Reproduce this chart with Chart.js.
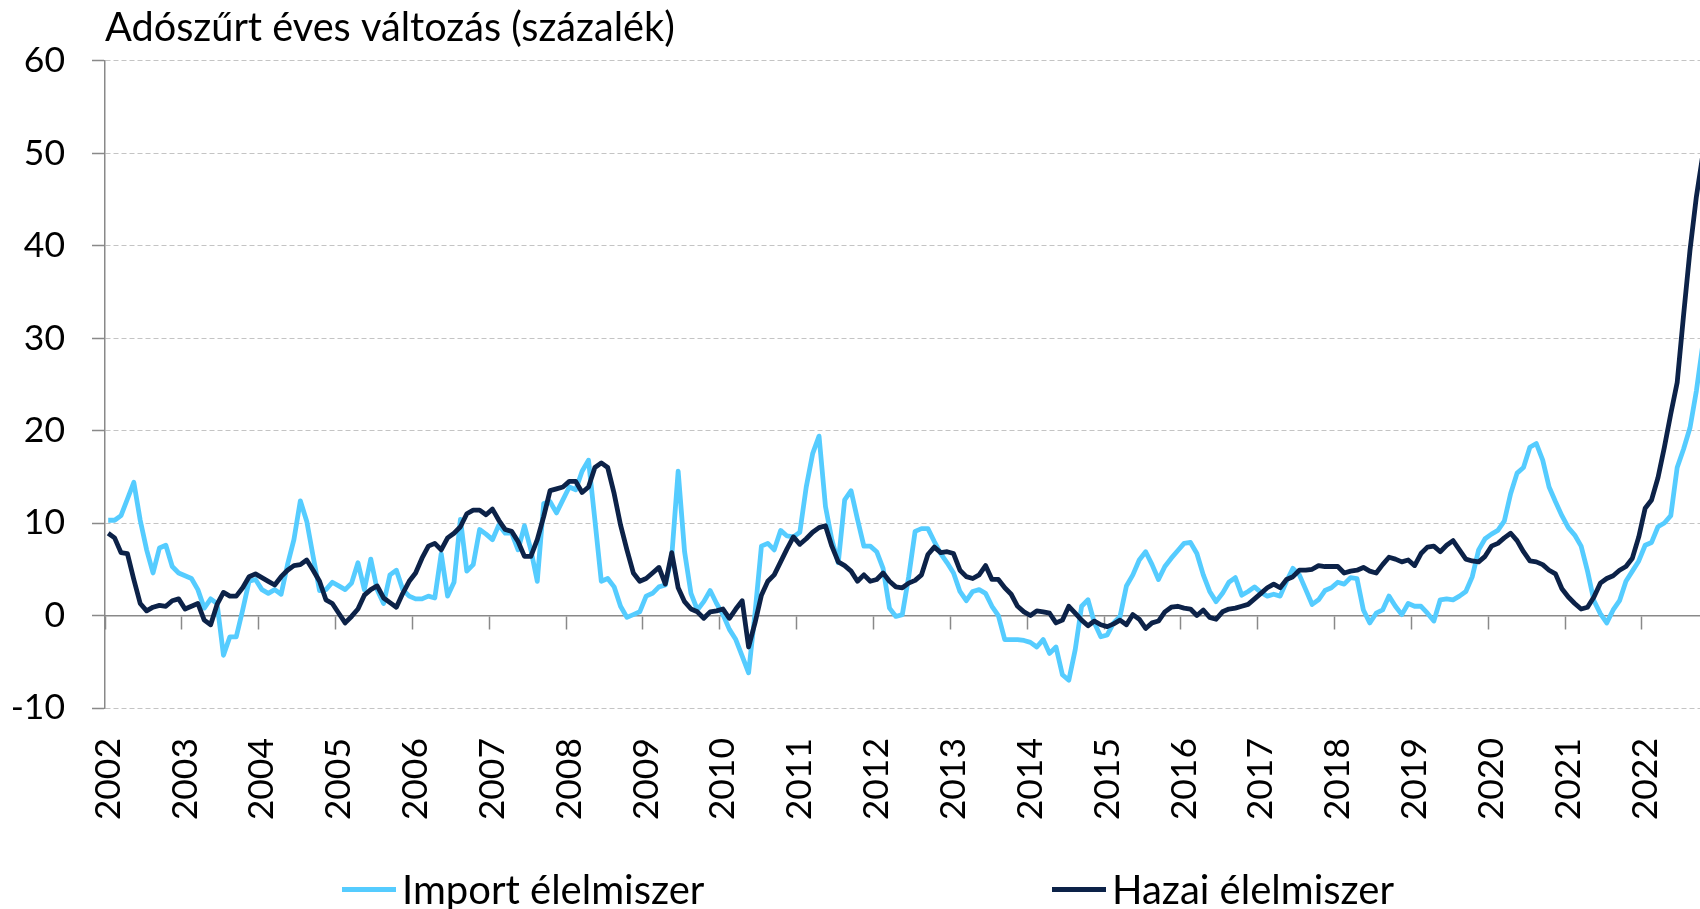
<!DOCTYPE html>
<html lang="hu">
<head>
<meta charset="utf-8">
<title>Adószűrt éves változás</title>
<script src="https://cdn.jsdelivr.net/npm/chart.js@4.4.1/dist/chart.umd.min.js"></script>
<style>
  html, body { margin: 0; padding: 0; background: #fff; }
  body { width: 1700px; height: 909px; overflow: hidden; position: relative; }
  #chart { position: absolute; left: 0; top: 0; }
  .legend-item {
    position: absolute; top: 866px; display: flex; align-items: center;
    font-family: Lato, 'Noto Sans', sans-serif; font-size: 40px; color: #000;
    line-height: 47px; white-space: nowrap;
  }
  .legend-item .swatch { width: 54px; height: 5px; margin-right: 6px; }
</style>
</head>
<body>
<canvas id="chart" width="1706" height="909"></canvas>
<div id="legend"></div>
<script>
// ===== DATA =====
const years = [2002, 2003, 2004, 2005, 2006, 2007, 2008, 2009, 2010, 2011, 2012,
               2013, 2014, 2015, 2016, 2017, 2018, 2019, 2020, 2021, 2022];
const monthCount = 250; // 2002-01 .. 2022-10

// Import élelmiszer, monthly, Jan 2002 – Oct 2022
const importFood = [
  10.3, 10.3, 10.8, 12.6, 14.4, 10.3, 7.1, 4.6, 7.3, 7.6, 5.3, 4.6,      // 2002
  4.3, 4.0, 2.8, 0.8, 1.8, 1.3, -4.3, -2.3, -2.3, 0.6, 3.7, 3.9,         // 2003
  2.8, 2.4, 2.8, 2.3, 5.5, 8.2, 12.4, 10.2, 6.4, 2.7, 2.8, 3.6,          // 2004
  3.2, 2.8, 3.5, 5.7, 2.8, 6.1, 2.8, 1.3, 4.4, 4.9, 2.8, 2.1,            // 2005
  1.8, 1.8, 2.1, 1.9, 6.7, 2.1, 3.6, 10.4, 4.8, 5.5, 9.3, 8.8,           // 2006
  8.2, 9.8, 8.9, 8.9, 7.1, 9.7, 7.1, 3.7, 12.1, 12.3, 11.1, 12.5,        // 2007
  13.9, 13.6, 15.6, 16.8, 10.3, 3.7, 4.0, 3.1, 1.0, -0.2, 0.1, 0.4,      // 2008
  2.1, 2.4, 3.1, 3.3, 6.4, 15.6, 6.9, 2.4, 0.6, 1.5, 2.7, 1.3,           // 2009
  0.1, -1.5, -2.6, -4.4, -6.2, 0.25, 7.5, 7.8, 7.1, 9.2, 8.6, 8.5,       // 2010
  9.0, 13.9, 17.5, 19.4, 11.8, 8.2, 5.7, 12.5, 13.5, 10.4, 7.5, 7.5,     // 2011
  6.9, 5.1, 0.8, -0.1, 0.1, 4.2, 9.1, 9.4, 9.4, 8.0, 6.7, 5.7,           // 2012
  4.6, 2.6, 1.6, 2.6, 2.8, 2.4, 1.0, 0.0, -2.6, -2.6, -2.6, -2.7,        // 2013
  -2.9, -3.4, -2.6, -4.1, -3.4, -6.4, -7.0, -3.7, 1.0, 1.7, -0.8, -2.3,  // 2014
  -2.1, -0.8, -0.1, 3.2, 4.4, 6.0, 6.9, 5.5, 3.9, 5.3, 6.2, 7.0,         // 2015
  7.8, 7.9, 6.7, 4.4, 2.6, 1.5, 2.4, 3.6, 4.1, 2.2, 2.6, 3.1,            // 2016
  2.5, 2.1, 2.3, 2.1, 3.7, 5.1, 4.4, 2.8, 1.2, 1.7, 2.7, 3.0,            // 2017
  3.6, 3.4, 4.1, 4.0, 0.6, -0.8, 0.25, 0.6, 2.1, 1.0, 0.1, 1.3,          // 2018
  1.0, 1.0, 0.25, -0.6, 1.7, 1.8, 1.7, 2.1, 2.6, 4.2, 7.1, 8.3,          // 2019
  8.8, 9.2, 10.2, 13.2, 15.4, 16.0, 18.2, 18.6, 16.8, 13.9, 12.3, 10.8,  // 2020
  9.5, 8.7, 7.5, 4.8, 1.6, 0.2, -0.8, 0.6, 1.6, 3.7, 4.8, 5.9,           // 2021
  7.6, 7.9, 9.6, 10.0, 10.8, 16.0, 18.0, 20.3, 24.3, 29.3                // 2022
];

// Hazai élelmiszer, monthly, Jan 2002 – Oct 2022
const domesticFood = [
  8.9, 8.4, 6.8, 6.7, 3.9, 1.3, 0.5, 0.9, 1.1, 1.0, 1.6, 1.8,            // 2002
  0.7, 1.0, 1.3, -0.5, -1.0, 1.2, 2.5, 2.1, 2.1, 3.0, 4.2, 4.5,          // 2003
  4.1, 3.7, 3.3, 4.2, 4.9, 5.4, 5.5, 6.0, 4.9, 3.7, 1.7, 1.3,            // 2004
  0.25, -0.8, -0.1, 0.7, 2.2, 2.8, 3.2, 1.9, 1.4, 0.9, 2.4, 3.7,         // 2005
  4.6, 6.2, 7.5, 7.8, 7.1, 8.4, 8.9, 9.6, 11.0, 11.4, 11.4, 10.9,        // 2006
  11.5, 10.3, 9.3, 9.1, 8.0, 6.4, 6.4, 8.2, 10.7, 13.5, 13.7, 13.9,      // 2007
  14.5, 14.5, 13.3, 13.9, 16.0, 16.5, 16.0, 13.2, 9.8, 7.1, 4.6, 3.7,    // 2008
  4.0, 4.6, 5.2, 3.4, 6.8, 3.0, 1.5, 0.7, 0.4, -0.3, 0.4, 0.5,           // 2009
  0.7, -0.3, 0.7, 1.6, -3.4, -0.8, 2.2, 3.7, 4.4, 5.8, 7.2, 8.5,         // 2010
  7.7, 8.3, 9.0, 9.5, 9.7, 7.5, 5.8, 5.4, 4.8, 3.7, 4.4, 3.7,            // 2011
  3.9, 4.6, 3.7, 3.1, 3.0, 3.5, 3.8, 4.4, 6.6, 7.4, 6.8, 6.9,            // 2012
  6.7, 4.9, 4.2, 4.0, 4.4, 5.4, 3.9, 3.9, 3.0, 2.3, 1.0, 0.4,            // 2013
  0.0, 0.5, 0.4, 0.25, -0.8, -0.5, 1.0, 0.25, -0.5, -1.1, -0.6, -1.0,    // 2014
  -1.2, -0.9, -0.5, -1.0, 0.1, -0.4, -1.4, -0.8, -0.6, 0.4, 0.9, 1.0,    // 2015
  0.8, 0.7, 0.0, 0.6, -0.2, -0.4, 0.4, 0.7, 0.8, 1.0, 1.2, 1.8,          // 2016
  2.4, 3.0, 3.4, 3.0, 3.9, 4.2, 4.9, 4.9, 5.0, 5.4, 5.3, 5.3,            // 2017
  5.3, 4.6, 4.8, 4.9, 5.2, 4.8, 4.6, 5.5, 6.3, 6.1, 5.8, 6.0,            // 2018
  5.4, 6.7, 7.4, 7.5, 6.9, 7.6, 8.1, 7.1, 6.1, 5.9, 5.8, 6.4,            // 2019
  7.5, 7.8, 8.4, 8.9, 8.1, 6.9, 5.9, 5.8, 5.5, 4.9, 4.5, 2.9,            // 2020
  2.0, 1.3, 0.7, 0.9, 2.0, 3.5, 4.0, 4.3, 4.9, 5.3, 6.2, 8.5,            // 2021
  11.6, 12.5, 14.9, 18.2, 21.8, 25.2, 32.5, 39.5, 45.3, 49.8             // 2022
];

const yTicks = { min: -10, max: 60, step: 10 };
const seriesNames = ['Import élelmiszer', 'Hazai élelmiszer'];
const seriesColors = ['#55CCFF', '#0C2248'];
const titleText = 'Adószűrt éves változás (százalék)';

// month labels "2002-01" ...
const months = [];
years.forEach(y => {
    for (let m = 1; m <= 12; m++) {
        months.push(y + '-' + String(m).padStart(2, '0'));
    }
});
months.length = monthCount;

// ===== CHART =====
const FONT = "Lato, 'Noto Sans', sans-serif";
const AXIS_GREY = '#898989';
const GRID_GREY = '#c4c4c4';

// keep the x scales from reserving side room for rotated labels
function fixXFit(height) {
    return (scale) => {
        scale.height = height;
        scale.paddingLeft = 0;
        scale.paddingRight = 0;
    };
}

const chart = new Chart(document.getElementById('chart'), {
    type: 'line',
    data: {
        labels: months,
        datasets: [
            {
                label: seriesNames[0],
                data: importFood,
                borderColor: seriesColors[0],
                backgroundColor: seriesColors[0],
                borderWidth: 4.8,
                pointRadius: 0,
                tension: 0,
                borderJoinStyle: 'round',
                order: 2
            },
            {
                label: seriesNames[1],
                data: domesticFood,
                borderColor: seriesColors[1],
                backgroundColor: seriesColors[1],
                borderWidth: 4.8,
                pointRadius: 0,
                tension: 0,
                borderJoinStyle: 'round',
                order: 1
            }
        ]
    },
    options: {
        responsive: false,
        animation: false,
        devicePixelRatio: 1,
        layout: { padding: { top: 0, right: 0, bottom: 71, left: 0 } },
        plugins: {
            legend: { display: false },
            tooltip: { enabled: false },
            title: {
                display: true,
                text: titleText,
                align: 'start',
                fullSize: false,
                color: '#000',
                font: { family: FONT, size: 39.7, weight: 'normal', lineHeight: 1.2 },
                padding: { top: 4, bottom: 9 }
            }
        },
        scales: {
            x: {
                type: 'category',
                position: 'bottom',
                offset: true,
                grid: { display: false, drawTicks: false },
                border: { display: false },
                ticks: {
                    autoSkip: false,
                    minRotation: 90,
                    maxRotation: 90,
                    padding: 30,
                    color: '#000',
                    font: { family: FONT, size: 35.5 },
                    callback: (value, index) => index % 12 === 0 ? months[index].slice(0, 4) : ''
                },
                afterFit: fixXFit(130)
            },
            // axis line at y = 0 with yearly tick marks
            x0: {
                type: 'category',
                position: { y: 0 },
                offset: true,
                grid: {
                    display: true,
                    offset: true,
                    drawOnChartArea: false,
                    drawTicks: true,
                    tickLength: 13,
                    tickWidth: 1.5,
                    tickColor: (ctx) => ctx.index % 12 === 0 ? AXIS_GREY : 'rgba(0,0,0,0)'
                },
                border: { display: true, color: AXIS_GREY, width: 1.5 },
                ticks: { display: false, autoSkip: false },
                afterFit: fixXFit(0)
            },
            y: {
                min: yTicks.min,
                max: yTicks.max,
                grid: {
                    color: (ctx) => ctx.tick && ctx.tick.value === 0 ? 'rgba(0,0,0,0)' : GRID_GREY,
                    lineWidth: 1,
                    drawTicks: true,
                    tickLength: 13,
                    tickColor: AXIS_GREY,
                    tickWidth: 1.5,
                    tickBorderDash: [1, 0]
                },
                border: { display: true, color: AXIS_GREY, width: 1.5, dash: [5, 3] },
                ticks: {
                    stepSize: yTicks.step,
                    padding: 27,
                    color: '#000',
                    font: { family: FONT, size: 35.5 }
                },
                afterFit: (scale) => { scale.width = 105; }
            }
        }
    }
});

// ===== LEGEND (HTML) =====
const legendLeft = [342, 1052];
const legendBox = document.getElementById('legend');
chart.data.datasets.forEach((ds, i) => {
    const item = document.createElement('div');
    item.className = 'legend-item';
    item.style.left = legendLeft[i] + 'px';
    item.innerHTML = '<span class="swatch" style="background:' + ds.borderColor + '"></span>' + ds.label;
    legendBox.appendChild(item);
});
</script>
</body>
</html>
